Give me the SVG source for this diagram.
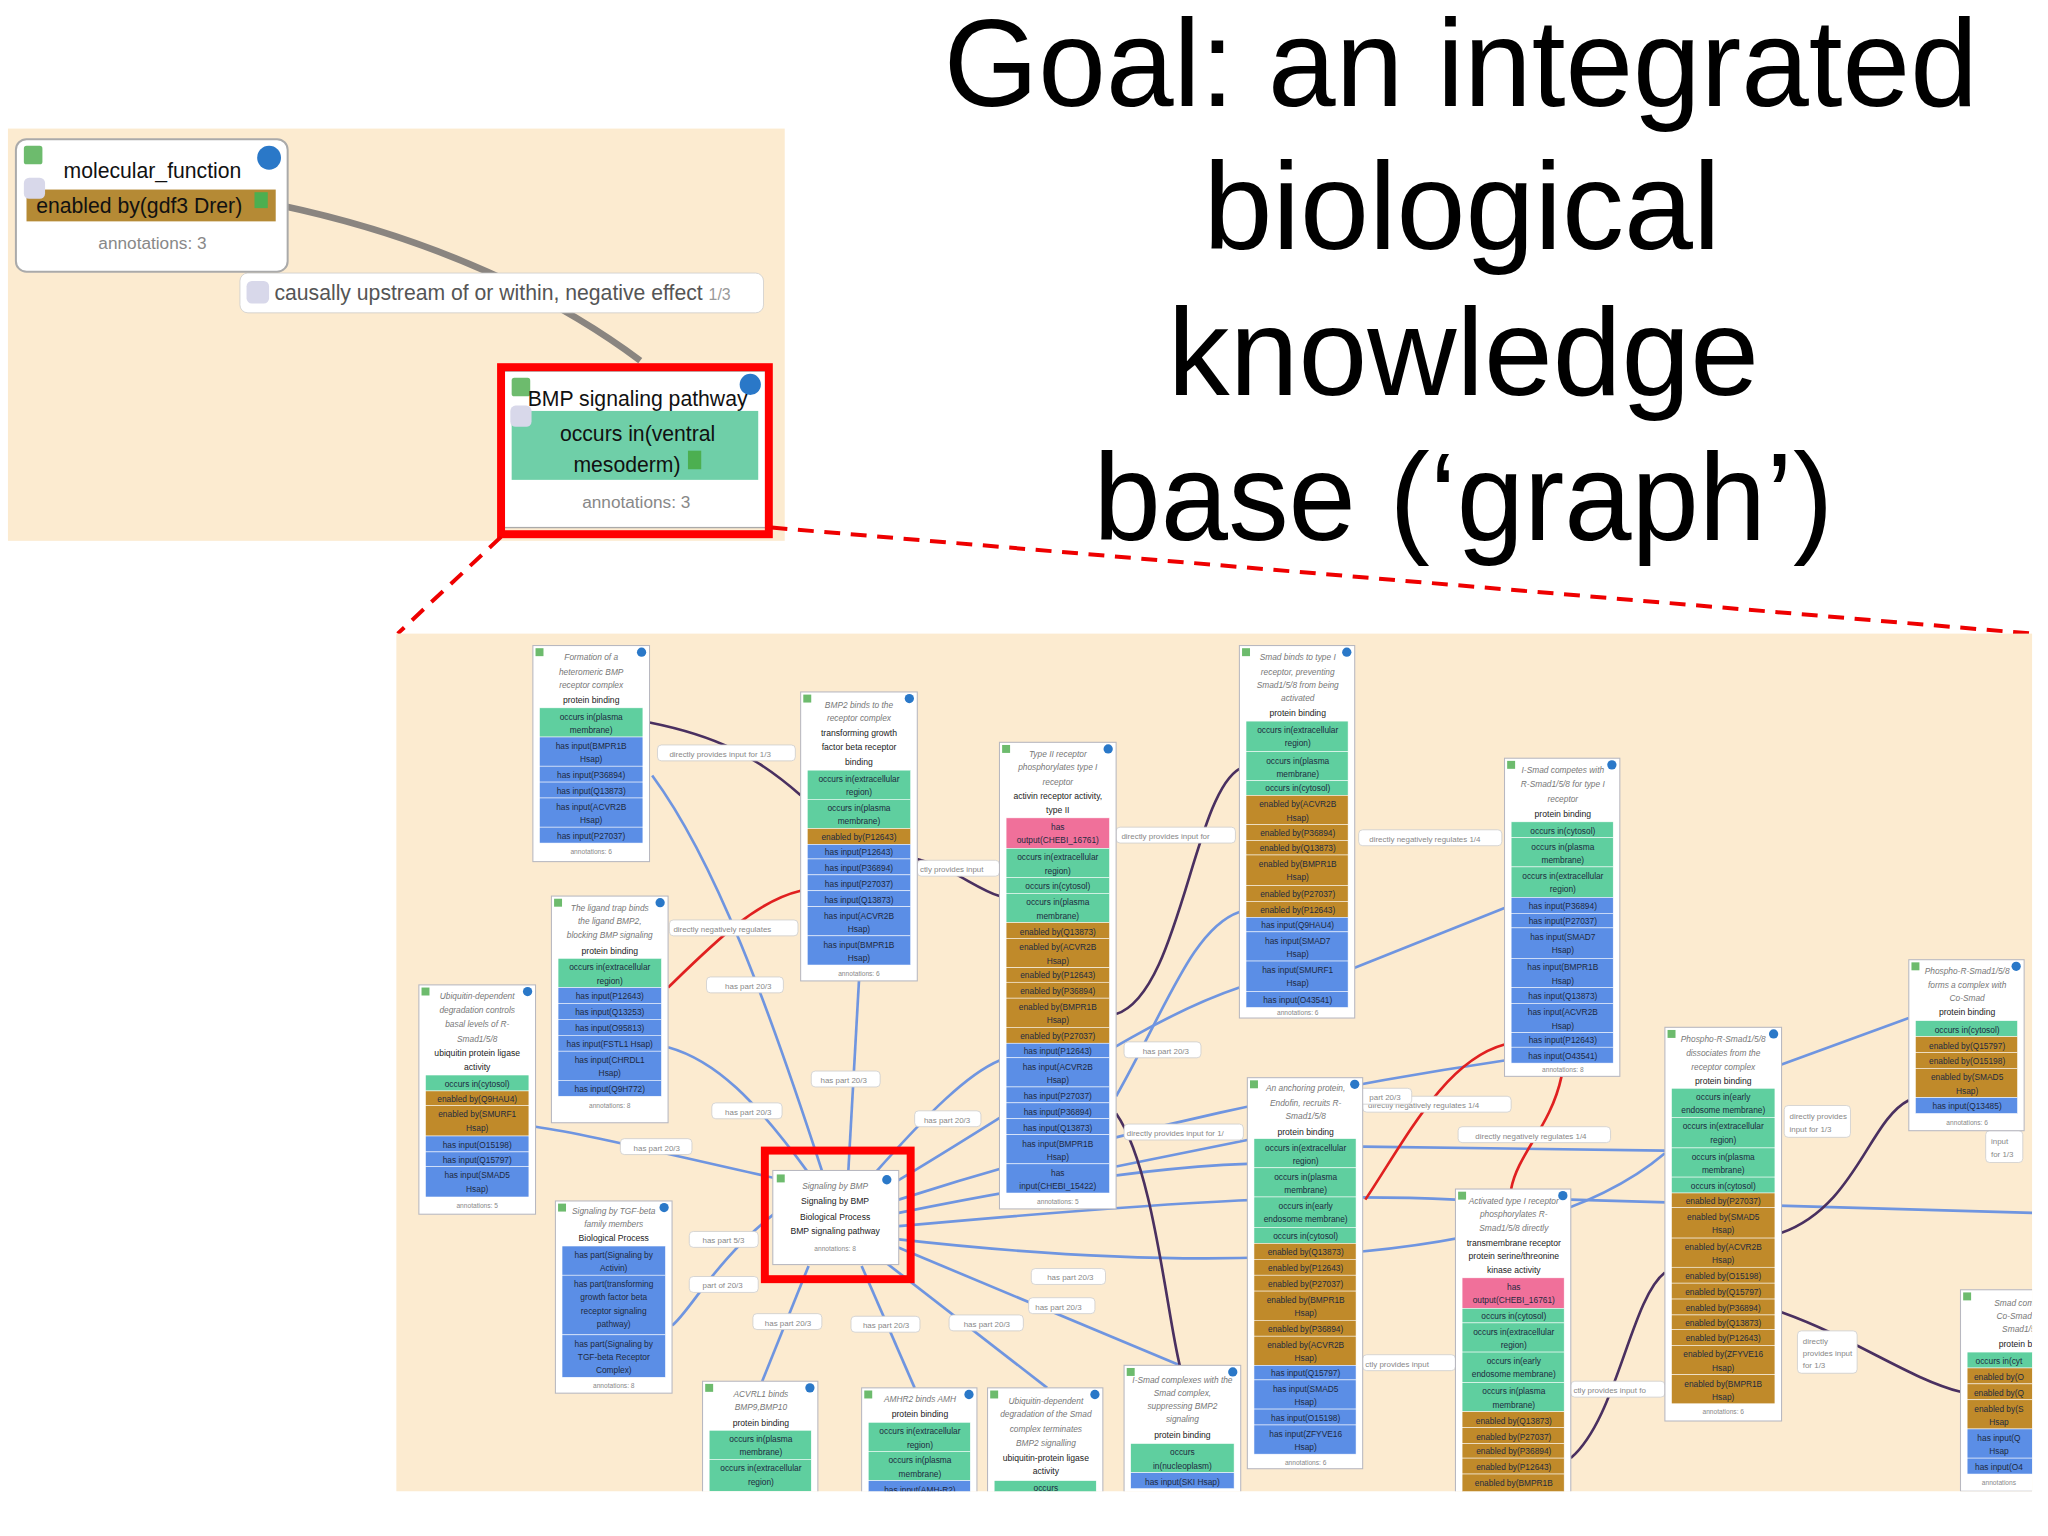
<svg xmlns="http://www.w3.org/2000/svg" width="2048" height="1536" viewBox="0 0 2048 1536">
<style>
.bg{fill:#fcebd0}
.nb{fill:#fff;stroke:#b8b8c0;stroke-width:0.8}
.g{fill:#5fcf9f;stroke:#fff;stroke-width:0.4}
.b{fill:#5b8ee6;stroke:#fff;stroke-width:0.4}
.o{fill:#c08a2a;stroke:#fff;stroke-width:0.4}
.p{fill:#f0709a;stroke:#fff;stroke-width:0.4}
text{font-family:"Liberation Sans",Arial,sans-serif;text-anchor:middle}
.ttl{font-size:94px;fill:#000}
.t{font-size:6.3px;fill:#1e2a40}
.ti{font-size:6.3px;fill:#777;font-style:italic}
.tk{font-size:6.5px;fill:#222}
.an{font-size:5px;fill:#888}
.lb{fill:#fff;stroke:#ccc;stroke-width:0.6}
.lt{font-size:6px;fill:#888;text-anchor:start}
.eb{fill:none;stroke:#6f95e0;stroke-width:2}
.ep{fill:none;stroke:#4a3060;stroke-width:2}
.er{fill:none;stroke:#e02020;stroke-width:2}
.gs{fill:#6dbb6d}
.dot{fill:#2a78c8}
.ls{fill:#d8d8ea}
</style>
<rect width="2048" height="1536" fill="#fff"/>
<g transform="scale(1.32556)">
<!-- top panel -->
<rect class="bg" x="6" y="97" width="586" height="311"/>
<text class="ttl" x="1102" y="80" textLength="780" lengthAdjust="spacingAndGlyphs">Goal: an integrated</text>
<text class="ttl" x="1103" y="188" textLength="390" lengthAdjust="spacingAndGlyphs">biological</text>
<text class="ttl" x="1104" y="298" textLength="446" lengthAdjust="spacingAndGlyphs">knowledge</text>
<text class="ttl" x="1104" y="407" textLength="558" lengthAdjust="spacingAndGlyphs">base (‘graph’)</text>
<g id="top-connectors">
<path d="M212,155 C330,180 420,225 483,272" fill="none" stroke="#8a8580" stroke-width="5"/>
<rect class="lb" x="181" y="206" width="395" height="30" rx="6"/>
<rect class="ls" x="186" y="212" width="17" height="17" rx="4"/>
<text x="207" y="226" style="font-size:16px;fill:#555;text-anchor:start">causally upstream of or within, negative effect <tspan style="font-size:12px;fill:#999">1/3</tspan></text>
</g>
<g id="molecular_function">
<rect x="12" y="105" width="205" height="100" rx="8" fill="#fff" stroke="#aaa" stroke-width="1.5"/>
<rect class="gs" x="18" y="110" width="14" height="14" rx="2"/>
<circle class="dot" cx="203" cy="119" r="9"/>
<text x="115" y="134" style="font-size:16px;fill:#111">molecular_function</text>
<rect x="20" y="143" width="188" height="24" fill="#b58a35"/>
<rect class="ls" x="18" y="134" width="16" height="16" rx="4"/>
<text x="105" y="161" style="font-size:16px;fill:#111">enabled by(gdf3 Drer)</text>
<rect x="192" y="145" width="10" height="12" fill="#4caf50"/>
<text x="115" y="188" style="font-size:13px;fill:#888">annotations: 3</text>
</g>
<g id="bmp_top">
<rect x="380" y="280" width="198" height="118" fill="#fff" stroke="#aaa"/>
<rect class="gs" x="386" y="285" width="14" height="14" rx="2"/>
<circle class="dot" cx="566" cy="290" r="8"/>
<text x="481" y="306" style="font-size:16px;fill:#111">BMP signaling pathway</text>
<rect x="386" y="310" width="186" height="52" fill="#6fcfa8"/>
<rect class="ls" x="385" y="306" width="16" height="16" rx="4"/>
<text x="481" y="333" style="font-size:16px;fill:#111">occurs in(ventral</text>
<text x="473" y="356" style="font-size:16px;fill:#111">mesoderm)</text>
<rect x="519" y="340" width="10" height="14" fill="#4caf50"/>
<text x="480" y="383" style="font-size:13px;fill:#888">annotations: 3</text>
<rect x="378" y="277" width="202" height="126" fill="none" stroke="#f00" stroke-width="6"/>
</g>
<path d="M378,405 L300,478 M582,398 L1533,478" fill="none" stroke="#e00" stroke-width="3" stroke-dasharray="12,8"/>
<!-- bottom panel -->
<rect class="bg" x="299" y="478" width="1234" height="647"/>
<clipPath id="cp"><rect x="299" y="478" width="1234" height="647"/></clipPath>
<g clip-path="url(#cp)">
<g id="connectors">
<path class="eb" d="M620,883 C580,760 540,650 492,585"/>
<path class="eb" d="M640,883 L648,740"/>
<path class="eb" d="M660,885 C700,840 730,810 754,800"/>
<path class="eb" d="M670,895 C780,830 860,770 935,745"/>
<path class="eb" d="M610,885 C570,830 540,800 504,790"/>
<path class="eb" d="M590,890 C500,870 440,855 404,850"/>
<path class="eb" d="M585,915 C540,950 520,990 507,1000"/>
<path class="eb" d="M610,955 L575,1042"/>
<path class="eb" d="M650,955 L690,1047"/>
<path class="eb" d="M665,950 L790,1047"/>
<path class="eb" d="M675,940 L890,1030"/>
<path class="eb" d="M678,915 C800,890 880,880 941,878"/>
<path class="eb" d="M678,925 C900,905 1000,900 1098,905"/>
<path class="eb" d="M678,935 C900,960 1150,960 1256,870"/>
<path class="eb" d="M678,905 C850,850 1000,820 1135,800"/>
<path class="eb" d="M1185,905 L1533,915"/>
<path class="eb" d="M1028,865 L1256,868"/>
<path class="eb" d="M1344,803 L1440,768"/>
<path class="eb" d="M842,827 C880,760 900,700 935,688"/>
<path class="eb" d="M1022,730 L1135,685"/>
<path class="eb" d="M842,880 L941,860"/>
<path class="ep" d="M490,545 C540,555 570,570 604,600"/>
<path class="ep" d="M692,648 C720,655 735,670 754,676"/>
<path class="ep" d="M842,765 C890,750 900,600 935,580"/>
<path class="ep" d="M842,840 C870,880 880,990 890,1030"/>
<path class="ep" d="M1344,930 C1400,910 1410,845 1440,830"/>
<path class="ep" d="M1185,1100 C1220,1070 1230,980 1256,960"/>
<path class="ep" d="M1344,990 C1400,1010 1440,1040 1479,1050"/>
<path class="er" d="M504,745 C540,710 570,680 604,672"/>
<path class="er" d="M1135,788 C1090,800 1060,860 1030,905"/>
<path class="er" d="M1178,812 C1170,850 1145,870 1140,897"/>
<g id="edge-labels">
<rect class="lb" x="496" y="562" width="104" height="12" rx="3"/><text class="lt" x="505" y="571">directly provides input for 1/3</text>
<rect class="lb" x="692" y="649" width="62" height="12" rx="3"/><text class="lt" x="694" y="658">ctly provides input</text>
<rect class="lb" x="505" y="694" width="97" height="12" rx="3"/><text class="lt" x="508" y="703">directly negatively regulates</text>
<rect class="lb" x="842" y="624" width="90" height="12" rx="3"/><text class="lt" x="846" y="633">directly provides input for</text>
<rect class="lb" x="1025" y="626" width="108" height="12" rx="3"/><text class="lt" x="1033" y="635">directly negatively regulates 1/4</text>
<rect class="lb" x="1028" y="827" width="112" height="12" rx="3"/><text class="lt" x="1032" y="836">directly negatively regulates 1/4</text>
<rect class="lb" x="1100" y="850" width="115" height="12" rx="3"/><text class="lt" x="1113" y="859">directly negatively regulates 1/4</text>
<rect class="lb" x="848" y="848" width="90" height="12" rx="3"/><text class="lt" x="850" y="857">directly provides input for 1/</text>
<rect class="lb" x="1028" y="1022" width="70" height="12" rx="3"/><text class="lt" x="1030" y="1031">ctly provides input</text>
<rect class="lb" x="1185" y="1042" width="71" height="12" rx="3"/><text class="lt" x="1187" y="1051">ctly provides input fo</text>
<rect class="lb" x="1346" y="834" width="50" height="24" rx="3"/><text class="lt" x="1350" y="844">directly provides</text><text class="lt" x="1350" y="854">input for 1/3</text>
<rect class="lb" x="1356" y="1004" width="45" height="32" rx="3"/><text class="lt" x="1360" y="1014">directly</text><text class="lt" x="1360" y="1023">provides input</text><text class="lt" x="1360" y="1032">for 1/3</text>
<rect class="lb" x="1498" y="853" width="28" height="24" rx="3"/><text class="lt" x="1502" y="863">input</text><text class="lt" x="1502" y="873">for 1/3</text>
<rect class="lb" x="533" y="737" width="58" height="12" rx="3"/><text class="lt" x="547" y="746">has part 20/3</text>
<rect class="lb" x="612" y="808" width="52" height="12" rx="3"/><text class="lt" x="619" y="817">has part 20/3</text>
<rect class="lb" x="537" y="832" width="53" height="12" rx="3"/><text class="lt" x="547" y="841">has part 20/3</text>
<rect class="lb" x="468" y="859" width="54" height="12" rx="3"/><text class="lt" x="478" y="868">has part 20/3</text>
<rect class="lb" x="690" y="838" width="50" height="12" rx="3"/><text class="lt" x="697" y="847">has part 20/3</text>
<rect class="lb" x="848" y="786" width="58" height="12" rx="3"/><text class="lt" x="862" y="795">has part 20/3</text>
<rect class="lb" x="1025" y="821" width="40" height="12" rx="3"/><text class="lt" x="1033" y="830">part 20/3</text>
<rect class="lb" x="520" y="929" width="52" height="12" rx="3"/><text class="lt" x="530" y="938">has part 5/3</text>
<rect class="lb" x="520" y="963" width="52" height="12" rx="3"/><text class="lt" x="530" y="972">part of 20/3</text>
<rect class="lb" x="568" y="991" width="52" height="12" rx="3"/><text class="lt" x="577" y="1000">has part 20/3</text>
<rect class="lb" x="642" y="993" width="52" height="12" rx="3"/><text class="lt" x="651" y="1002">has part 20/3</text>
<rect class="lb" x="716" y="992" width="56" height="12" rx="3"/><text class="lt" x="727" y="1001">has part 20/3</text>
<rect class="lb" x="778" y="957" width="56" height="12" rx="3"/><text class="lt" x="790" y="966">has part 20/3</text>
<rect class="lb" x="776" y="979" width="50" height="12" rx="3"/><text class="lt" x="781" y="988">has part 20/3</text>
</g>
</g>
<!-- N1 -->
<g id="n1">
<rect class="nb" x="402" y="487" width="88" height="163"/>
<rect class="gs" x="404" y="489" width="6" height="6"/><circle class="dot" cx="484" cy="492" r="3.5"/>
<text class="ti" x="446" y="498">Formation of a</text><text class="ti" x="446" y="509">heteromeric BMP</text><text class="ti" x="446" y="519">receptor complex</text>
<text class="tk" x="446" y="530">protein binding</text>
<rect class="g" x="407" y="534" width="78" height="22"/><text class="t" x="446" y="543">occurs in(plasma</text><text class="t" x="446" y="553">membrane)</text>
<rect class="b" x="407" y="556" width="78" height="22"/><text class="t" x="446" y="565">has input(BMPR1B</text><text class="t" x="446" y="575">Hsap)</text>
<rect class="b" x="407" y="578" width="78" height="12"/><text class="t" x="446" y="587">has input(P36894)</text>
<rect class="b" x="407" y="590" width="78" height="12"/><text class="t" x="446" y="599">has input(Q13873)</text>
<rect class="b" x="407" y="602" width="78" height="22"/><text class="t" x="446" y="611">has input(ACVR2B</text><text class="t" x="446" y="621">Hsap)</text>
<rect class="b" x="407" y="624" width="78" height="12"/><text class="t" x="446" y="633">has input(P27037)</text>
<text class="an" x="446" y="644">annotations: 6</text>
</g>
<!-- N2 -->
<g id="n2">
<rect class="nb" x="604" y="522" width="88" height="218"/>
<rect class="gs" x="606" y="524" width="6" height="6"/><circle class="dot" cx="686" cy="527" r="3.5"/>
<text class="ti" x="648" y="534">BMP2 binds to the</text><text class="ti" x="648" y="544">receptor complex</text>
<text class="tk" x="648" y="555">transforming growth</text><text class="tk" x="648" y="566">factor beta receptor</text><text class="tk" x="648" y="577">binding</text>
<rect class="g" x="609" y="581" width="78" height="22"/><text class="t" x="648" y="590">occurs in(extracellular</text><text class="t" x="648" y="600">region)</text>
<rect class="g" x="609" y="603" width="78" height="22"/><text class="t" x="648" y="612">occurs in(plasma</text><text class="t" x="648" y="622">membrane)</text>
<rect class="o" x="609" y="625" width="78" height="12"/><text class="t" x="648" y="634">enabled by(P12643)</text>
<rect class="b" x="609" y="637" width="78" height="11"/><text class="t" x="648" y="645">has input(P12643)</text>
<rect class="b" x="609" y="648" width="78" height="12"/><text class="t" x="648" y="657">has input(P36894)</text>
<rect class="b" x="609" y="660" width="78" height="12"/><text class="t" x="648" y="669">has input(P27037)</text>
<rect class="b" x="609" y="672" width="78" height="12"/><text class="t" x="648" y="681">has input(Q13873)</text>
<rect class="b" x="609" y="684" width="78" height="22"/><text class="t" x="648" y="693">has input(ACVR2B</text><text class="t" x="648" y="703">Hsap)</text>
<rect class="b" x="609" y="706" width="78" height="22"/><text class="t" x="648" y="715">has input(BMPR1B</text><text class="t" x="648" y="725">Hsap)</text>
<text class="an" x="648" y="736">annotations: 6</text>
</g>
<!-- N3 -->
<g id="n3">
<rect class="nb" x="754" y="560" width="88" height="352"/>
<rect class="gs" x="756" y="562" width="6" height="6"/><circle class="dot" cx="836" cy="565" r="3.5"/>
<text class="ti" x="798" y="571">Type II receptor</text><text class="ti" x="798" y="581">phosphorylates type I</text><text class="ti" x="798" y="592">receptor</text>
<text class="tk" x="798" y="603">activin receptor activity,</text><text class="tk" x="798" y="613">type II</text>
<rect class="p" x="759" y="617" width="78" height="23"/><text class="t" x="798" y="626">has</text><text class="t" x="798" y="636">output(CHEBI_16761)</text>
<rect class="g" x="759" y="640" width="78" height="22"/><text class="t" x="798" y="649">occurs in(extracellular</text><text class="t" x="798" y="659">region)</text>
<rect class="g" x="759" y="662" width="78" height="12"/><text class="t" x="798" y="671">occurs in(cytosol)</text>
<rect class="g" x="759" y="674" width="78" height="22"/><text class="t" x="798" y="683">occurs in(plasma</text><text class="t" x="798" y="693">membrane)</text>
<rect class="o" x="759" y="696" width="78" height="12"/><text class="t" x="798" y="705">enabled by(Q13873)</text>
<rect class="o" x="759" y="708" width="78" height="22"/><text class="t" x="798" y="717">enabled by(ACVR2B</text><text class="t" x="798" y="727">Hsap)</text>
<rect class="o" x="759" y="730" width="78" height="11"/><text class="t" x="798" y="738">enabled by(P12643)</text>
<rect class="o" x="759" y="741" width="78" height="12"/><text class="t" x="798" y="750">enabled by(P36894)</text>
<rect class="o" x="759" y="753" width="78" height="22"/><text class="t" x="798" y="762">enabled by(BMPR1B</text><text class="t" x="798" y="772">Hsap)</text>
<rect class="o" x="759" y="775" width="78" height="12"/><text class="t" x="798" y="784">enabled by(P27037)</text>
<rect class="b" x="759" y="787" width="78" height="11"/><text class="t" x="798" y="795">has input(P12643)</text>
<rect class="b" x="759" y="798" width="78" height="22"/><text class="t" x="798" y="807">has input(ACVR2B</text><text class="t" x="798" y="817">Hsap)</text>
<rect class="b" x="759" y="820" width="78" height="12"/><text class="t" x="798" y="829">has input(P27037)</text>
<rect class="b" x="759" y="832" width="78" height="12"/><text class="t" x="798" y="841">has input(P36894)</text>
<rect class="b" x="759" y="844" width="78" height="12"/><text class="t" x="798" y="853">has input(Q13873)</text>
<rect class="b" x="759" y="856" width="78" height="22"/><text class="t" x="798" y="865">has input(BMPR1B</text><text class="t" x="798" y="875">Hsap)</text>
<rect class="b" x="759" y="878" width="78" height="22"/><text class="t" x="798" y="887">has</text><text class="t" x="798" y="897">input(CHEBI_15422)</text>
<text class="an" x="798" y="908">annotations: 5</text>
</g>
<!-- N4 -->
<g id="n4">
<rect class="nb" x="935" y="487" width="87" height="281"/>
<rect class="gs" x="937" y="489" width="6" height="6"/><circle class="dot" cx="1016" cy="492" r="3.5"/>
<text class="ti" x="979" y="498">Smad binds to type I</text><text class="ti" x="979" y="509">receptor, preventing</text><text class="ti" x="979" y="519">Smad1/5/8 from being</text><text class="ti" x="979" y="529">activated</text>
<text class="tk" x="979" y="540">protein binding</text>
<rect class="g" x="940" y="544" width="77" height="23"/><text class="t" x="979" y="553">occurs in(extracellular</text><text class="t" x="979" y="563">region)</text>
<rect class="g" x="940" y="567" width="77" height="22"/><text class="t" x="979" y="576">occurs in(plasma</text><text class="t" x="979" y="586">membrane)</text>
<rect class="g" x="940" y="589" width="77" height="11"/><text class="t" x="979" y="597">occurs in(cytosol)</text>
<rect class="o" x="940" y="600" width="77" height="22"/><text class="t" x="979" y="609">enabled by(ACVR2B</text><text class="t" x="979" y="619">Hsap)</text>
<rect class="o" x="940" y="622" width="77" height="12"/><text class="t" x="979" y="631">enabled by(P36894)</text>
<rect class="o" x="940" y="634" width="77" height="11"/><text class="t" x="979" y="642">enabled by(Q13873)</text>
<rect class="o" x="940" y="645" width="77" height="23"/><text class="t" x="979" y="654">enabled by(BMPR1B</text><text class="t" x="979" y="664">Hsap)</text>
<rect class="o" x="940" y="668" width="77" height="12"/><text class="t" x="979" y="677">enabled by(P27037)</text>
<rect class="o" x="940" y="680" width="77" height="12"/><text class="t" x="979" y="689">enabled by(P12643)</text>
<rect class="b" x="940" y="692" width="77" height="11"/><text class="t" x="979" y="700">has input(Q9HAU4)</text>
<rect class="b" x="940" y="703" width="77" height="22"/><text class="t" x="979" y="712">has input(SMAD7</text><text class="t" x="979" y="722">Hsap)</text>
<rect class="b" x="940" y="725" width="77" height="23"/><text class="t" x="979" y="734">has input(SMURF1</text><text class="t" x="979" y="744">Hsap)</text>
<rect class="b" x="940" y="748" width="77" height="12"/><text class="t" x="979" y="757">has input(O43541)</text>
<text class="an" x="979" y="766">annotations: 6</text>
</g>
<!-- N5 -->
<g id="n5">
<rect class="nb" x="1135" y="572" width="87" height="240"/>
<rect class="gs" x="1137" y="574" width="6" height="6"/><circle class="dot" cx="1216" cy="577" r="3.5"/>
<text class="ti" x="1179" y="583">I-Smad competes with</text><text class="ti" x="1179" y="594">R-Smad1/5/8 for type I</text><text class="ti" x="1179" y="605">receptor</text>
<text class="tk" x="1179" y="616">protein binding</text>
<rect class="g" x="1140" y="620" width="77" height="12"/><text class="t" x="1179" y="629">occurs in(cytosol)</text>
<rect class="g" x="1140" y="632" width="77" height="22"/><text class="t" x="1179" y="641">occurs in(plasma</text><text class="t" x="1179" y="651">membrane)</text>
<rect class="g" x="1140" y="654" width="77" height="23"/><text class="t" x="1179" y="663">occurs in(extracellular</text><text class="t" x="1179" y="673">region)</text>
<rect class="b" x="1140" y="677" width="77" height="12"/><text class="t" x="1179" y="686">has input(P36894)</text>
<rect class="b" x="1140" y="689" width="77" height="11"/><text class="t" x="1179" y="697">has input(P27037)</text>
<rect class="b" x="1140" y="700" width="77" height="23"/><text class="t" x="1179" y="709">has input(SMAD7</text><text class="t" x="1179" y="719">Hsap)</text>
<rect class="b" x="1140" y="723" width="77" height="22"/><text class="t" x="1179" y="732">has input(BMPR1B</text><text class="t" x="1179" y="742">Hsap)</text>
<rect class="b" x="1140" y="745" width="77" height="12"/><text class="t" x="1179" y="754">has input(Q13873)</text>
<rect class="b" x="1140" y="757" width="77" height="22"/><text class="t" x="1179" y="766">has input(ACVR2B</text><text class="t" x="1179" y="776">Hsap)</text>
<rect class="b" x="1140" y="779" width="77" height="11"/><text class="t" x="1179" y="787">has input(P12643)</text>
<rect class="b" x="1140" y="790" width="77" height="12"/><text class="t" x="1179" y="799">has input(O43541)</text>
<text class="an" x="1179" y="809">annotations: 8</text>
</g>
<!-- N6 -->
<g id="n6">
<rect class="nb" x="1440" y="724" width="87" height="129"/>
<rect class="gs" x="1442" y="726" width="6" height="6"/><circle class="dot" cx="1521" cy="729" r="3.5"/>
<text class="ti" x="1484" y="735">Phospho-R-Smad1/5/8</text><text class="ti" x="1484" y="745">forms a complex with</text><text class="ti" x="1484" y="755">Co-Smad</text>
<text class="tk" x="1484" y="766">protein binding</text>
<rect class="g" x="1445" y="770" width="77" height="12"/><text class="t" x="1484" y="779">occurs in(cytosol)</text>
<rect class="o" x="1445" y="782" width="77" height="12"/><text class="t" x="1484" y="791">enabled by(Q15797)</text>
<rect class="o" x="1445" y="794" width="77" height="12"/><text class="t" x="1484" y="803">enabled by(O15198)</text>
<rect class="o" x="1445" y="806" width="77" height="22"/><text class="t" x="1484" y="815">enabled by(SMAD5</text><text class="t" x="1484" y="825">Hsap)</text>
<rect class="b" x="1445" y="828" width="77" height="12"/><text class="t" x="1484" y="837">has input(Q13485)</text>
<text class="an" x="1484" y="849">annotations: 6</text>
</g>
<!-- N7 -->
<g id="n7">
<rect class="nb" x="1256" y="775" width="88" height="297"/>
<rect class="gs" x="1258" y="777" width="6" height="6"/><circle class="dot" cx="1338" cy="780" r="3.5"/>
<text class="ti" x="1300" y="786">Phospho-R-Smad1/5/8</text><text class="ti" x="1300" y="797">dissociates from the</text><text class="ti" x="1300" y="807">receptor complex</text>
<text class="tk" x="1300" y="818">protein binding</text>
<rect class="g" x="1261" y="821" width="78" height="22"/><text class="t" x="1300" y="830">occurs in(early</text><text class="t" x="1300" y="840">endosome membrane)</text>
<rect class="g" x="1261" y="843" width="78" height="23"/><text class="t" x="1300" y="852">occurs in(extracellular</text><text class="t" x="1300" y="862">region)</text>
<rect class="g" x="1261" y="866" width="78" height="22"/><text class="t" x="1300" y="875">occurs in(plasma</text><text class="t" x="1300" y="885">membrane)</text>
<rect class="g" x="1261" y="888" width="78" height="12"/><text class="t" x="1300" y="897">occurs in(cytosol)</text>
<rect class="o" x="1261" y="900" width="78" height="11"/><text class="t" x="1300" y="908">enabled by(P27037)</text>
<rect class="o" x="1261" y="911" width="78" height="23"/><text class="t" x="1300" y="920">enabled by(SMAD5</text><text class="t" x="1300" y="930">Hsap)</text>
<rect class="o" x="1261" y="934" width="78" height="22"/><text class="t" x="1300" y="943">enabled by(ACVR2B</text><text class="t" x="1300" y="953">Hsap)</text>
<rect class="o" x="1261" y="956" width="78" height="12"/><text class="t" x="1300" y="965">enabled by(O15198)</text>
<rect class="o" x="1261" y="968" width="78" height="12"/><text class="t" x="1300" y="977">enabled by(Q15797)</text>
<rect class="o" x="1261" y="980" width="78" height="12"/><text class="t" x="1300" y="989">enabled by(P36894)</text>
<rect class="o" x="1261" y="992" width="78" height="11"/><text class="t" x="1300" y="1000">enabled by(Q13873)</text>
<rect class="o" x="1261" y="1003" width="78" height="12"/><text class="t" x="1300" y="1012">enabled by(P12643)</text>
<rect class="o" x="1261" y="1015" width="78" height="22"/><text class="t" x="1300" y="1024">enabled by(ZFYVE16</text><text class="t" x="1300" y="1034">Hsap)</text>
<rect class="o" x="1261" y="1037" width="78" height="22"/><text class="t" x="1300" y="1046">enabled by(BMPR1B</text><text class="t" x="1300" y="1056">Hsap)</text>
<text class="an" x="1300" y="1067">annotations: 6</text>
</g>
<!-- N8 -->
<g id="n8">
<rect class="nb" x="941" y="813" width="87" height="295"/>
<rect class="gs" x="943" y="815" width="6" height="6"/><circle class="dot" cx="1022" cy="818" r="3.5"/>
<text class="ti" x="985" y="823">An anchoring protein,</text><text class="ti" x="985" y="834">Endofin, recruits R-</text><text class="ti" x="985" y="844">Smad1/5/8</text>
<text class="tk" x="985" y="856">protein binding</text>
<rect class="g" x="946" y="859" width="77" height="22"/><text class="t" x="985" y="868">occurs in(extracellular</text><text class="t" x="985" y="878">region)</text>
<rect class="g" x="946" y="881" width="77" height="22"/><text class="t" x="985" y="890">occurs in(plasma</text><text class="t" x="985" y="900">membrane)</text>
<rect class="g" x="946" y="903" width="77" height="23"/><text class="t" x="985" y="912">occurs in(early</text><text class="t" x="985" y="922">endosome membrane)</text>
<rect class="g" x="946" y="926" width="77" height="12"/><text class="t" x="985" y="935">occurs in(cytosol)</text>
<rect class="o" x="946" y="938" width="77" height="12"/><text class="t" x="985" y="947">enabled by(Q13873)</text>
<rect class="o" x="946" y="950" width="77" height="12"/><text class="t" x="985" y="959">enabled by(P12643)</text>
<rect class="o" x="946" y="962" width="77" height="12"/><text class="t" x="985" y="971">enabled by(P27037)</text>
<rect class="o" x="946" y="974" width="77" height="22"/><text class="t" x="985" y="983">enabled by(BMPR1B</text><text class="t" x="985" y="993">Hsap)</text>
<rect class="o" x="946" y="996" width="77" height="12"/><text class="t" x="985" y="1005">enabled by(P36894)</text>
<rect class="o" x="946" y="1008" width="77" height="22"/><text class="t" x="985" y="1017">enabled by(ACVR2B</text><text class="t" x="985" y="1027">Hsap)</text>
<rect class="b" x="946" y="1030" width="77" height="11"/><text class="t" x="985" y="1038">has input(Q15797)</text>
<rect class="b" x="946" y="1041" width="77" height="22"/><text class="t" x="985" y="1050">has input(SMAD5</text><text class="t" x="985" y="1060">Hsap)</text>
<rect class="b" x="946" y="1063" width="77" height="12"/><text class="t" x="985" y="1072">has input(O15198)</text>
<rect class="b" x="946" y="1075" width="77" height="22"/><text class="t" x="985" y="1084">has input(ZFYVE16</text><text class="t" x="985" y="1094">Hsap)</text>
<text class="an" x="985" y="1105">annotations: 6</text>
</g>
<!-- N9 -->
<g id="n9">
<rect class="nb" x="1098" y="897" width="87" height="240"/>
<rect class="gs" x="1100" y="899" width="6" height="6"/><circle class="dot" cx="1179" cy="902" r="3.5"/>
<text class="ti" x="1142" y="908">Activated type I receptor</text><text class="ti" x="1142" y="918">phosphorylates R-</text><text class="ti" x="1142" y="929">Smad1/5/8 directly</text>
<text class="tk" x="1142" y="940">transmembrane receptor</text><text class="tk" x="1142" y="950">protein serine/threonine</text><text class="tk" x="1142" y="960">kinase activity</text>
<rect class="p" x="1103" y="964" width="77" height="23"/><text class="t" x="1142" y="973">has</text><text class="t" x="1142" y="983">output(CHEBI_16761)</text>
<rect class="g" x="1103" y="987" width="77" height="11"/><text class="t" x="1142" y="995">occurs in(cytosol)</text>
<rect class="g" x="1103" y="998" width="77" height="22"/><text class="t" x="1142" y="1007">occurs in(extracellular</text><text class="t" x="1142" y="1017">region)</text>
<rect class="g" x="1103" y="1020" width="77" height="23"/><text class="t" x="1142" y="1029">occurs in(early</text><text class="t" x="1142" y="1039">endosome membrane)</text>
<rect class="g" x="1103" y="1043" width="77" height="22"/><text class="t" x="1142" y="1052">occurs in(plasma</text><text class="t" x="1142" y="1062">membrane)</text>
<rect class="o" x="1103" y="1065" width="77" height="12"/><text class="t" x="1142" y="1074">enabled by(Q13873)</text>
<rect class="o" x="1103" y="1077" width="77" height="12"/><text class="t" x="1142" y="1086">enabled by(P27037)</text>
<rect class="o" x="1103" y="1089" width="77" height="11"/><text class="t" x="1142" y="1097">enabled by(P36894)</text>
<rect class="o" x="1103" y="1100" width="77" height="12"/><text class="t" x="1142" y="1109">enabled by(P12643)</text>
<rect class="o" x="1103" y="1112" width="77" height="22"/><text class="t" x="1142" y="1121">enabled by(BMPR1B</text>
</g>
<!-- N10 -->
<g id="n10">
<rect class="nb" x="316" y="743" width="88" height="173"/>
<rect class="gs" x="318" y="745" width="6" height="6"/><circle class="dot" cx="398" cy="748" r="3.5"/>
<text class="ti" x="360" y="754">Ubiquitin-dependent</text><text class="ti" x="360" y="764">degradation controls</text><text class="ti" x="360" y="775">basal levels of R-</text><text class="ti" x="360" y="786">Smad1/5/8</text>
<text class="tk" x="360" y="797">ubiquitin protein ligase</text><text class="tk" x="360" y="807">activity</text>
<rect class="g" x="321" y="811" width="78" height="12"/><text class="t" x="360" y="820">occurs in(cytosol)</text>
<rect class="o" x="321" y="823" width="78" height="11"/><text class="t" x="360" y="831">enabled by(Q9HAU4)</text>
<rect class="o" x="321" y="834" width="78" height="23"/><text class="t" x="360" y="843">enabled by(SMURF1</text><text class="t" x="360" y="853">Hsap)</text>
<rect class="b" x="321" y="857" width="78" height="12"/><text class="t" x="360" y="866">has input(O15198)</text>
<rect class="b" x="321" y="869" width="78" height="11"/><text class="t" x="360" y="877">has input(Q15797)</text>
<rect class="b" x="321" y="880" width="78" height="23"/><text class="t" x="360" y="889">has input(SMAD5</text><text class="t" x="360" y="899">Hsap)</text>
<text class="an" x="360" y="911">annotations: 5</text>
</g>
<!-- N11 -->
<g id="n11">
<rect class="nb" x="416" y="676" width="88" height="171"/>
<rect class="gs" x="418" y="678" width="6" height="6"/><circle class="dot" cx="498" cy="681" r="3.5"/>
<text class="ti" x="460" y="687">The ligand trap binds</text><text class="ti" x="460" y="697">the ligand BMP2,</text><text class="ti" x="460" y="708">blocking BMP signaling</text>
<text class="tk" x="460" y="720">protein binding</text>
<rect class="g" x="421" y="723" width="78" height="22"/><text class="t" x="460" y="732">occurs in(extracellular</text><text class="t" x="460" y="742">region)</text>
<rect class="b" x="421" y="745" width="78" height="12"/><text class="t" x="460" y="754">has input(P12643)</text>
<rect class="b" x="421" y="757" width="78" height="12"/><text class="t" x="460" y="766">has input(Q13253)</text>
<rect class="b" x="421" y="769" width="78" height="12"/><text class="t" x="460" y="778">has input(O95813)</text>
<rect class="b" x="421" y="781" width="78" height="12"/><text class="t" x="460" y="790">has input(FSTL1 Hsap)</text>
<rect class="b" x="421" y="793" width="78" height="22"/><text class="t" x="460" y="802">has input(CHRDL1</text><text class="t" x="460" y="812">Hsap)</text>
<rect class="b" x="421" y="815" width="78" height="12"/><text class="t" x="460" y="824">has input(Q9H772)</text>
<text class="an" x="460" y="836">annotations: 8</text>
</g>
<!-- N12 -->
<g id="n12">
<rect class="nb" x="419" y="906" width="88" height="145"/>
<rect class="gs" x="421" y="908" width="6" height="6"/><circle class="dot" cx="501" cy="911" r="3.5"/>
<text class="ti" x="463" y="916">Signaling by TGF-beta</text><text class="ti" x="463" y="926">family members</text>
<text class="tk" x="463" y="936">Biological Process</text>
<rect class="b" x="424" y="940" width="78" height="22"/><text class="t" x="463" y="949">has part(Signaling by</text><text class="t" x="463" y="959">Activin)</text>
<rect class="b" x="424" y="962" width="78" height="45"/><text class="t" x="463" y="971">has part(transforming</text><text class="t" x="463" y="981">growth factor beta</text><text class="t" x="463" y="991">receptor signaling</text><text class="t" x="463" y="1001">pathway)</text>
<rect class="b" x="424" y="1007" width="78" height="32"/><text class="t" x="463" y="1016">has part(Signaling by</text><text class="t" x="463" y="1026">TGF-beta Receptor</text><text class="t" x="463" y="1036">Complex)</text>
<text class="an" x="463" y="1047">annotations: 8</text>
</g>
<!-- N13 center -->
<g id="n13">
<rect class="nb" x="583" y="883" width="95" height="71"/>
<rect class="gs" x="586" y="886" width="6" height="6"/><circle class="dot" cx="669" cy="890" r="3.5"/>
<text class="ti" x="630" y="897">Signaling by BMP</text>
<text class="tk" x="630" y="908">Signaling by BMP</text>
<text class="tk" x="630" y="920">Biological Process</text>
<text class="tk" x="630" y="931">BMP signaling pathway</text>
<text class="an" x="630" y="944">annotations: 8</text>
<rect x="577" y="868" width="110" height="97" fill="none" stroke="#f00" stroke-width="6"/>
</g>
<!-- N14 -->
<g id="n14">
<rect class="nb" x="530" y="1042" width="87" height="90"/>
<rect class="gs" x="532" y="1044" width="6" height="6"/><circle class="dot" cx="611" cy="1047" r="3.5"/>
<text class="ti" x="574" y="1054">ACVRL1 binds</text><text class="ti" x="574" y="1064">BMP9,BMP10</text>
<text class="tk" x="574" y="1076">protein binding</text>
<rect class="g" x="535" y="1079" width="77" height="22"/><text class="t" x="574" y="1088">occurs in(plasma</text><text class="t" x="574" y="1098">membrane)</text>
<rect class="g" x="535" y="1101" width="77" height="24"/><text class="t" x="574" y="1110">occurs in(extracellular</text><text class="t" x="574" y="1120">region)</text>
</g>
<!-- N15 -->
<g id="n15">
<rect class="nb" x="650" y="1047" width="87" height="85"/>
<rect class="gs" x="652" y="1049" width="6" height="6"/><circle class="dot" cx="731" cy="1052" r="3.5"/>
<text class="ti" x="694" y="1058">AMHR2 binds AMH</text>
<text class="tk" x="694" y="1069">protein binding</text>
<rect class="g" x="655" y="1073" width="77" height="22"/><text class="t" x="694" y="1082">occurs in(extracellular</text><text class="t" x="694" y="1092">region)</text>
<rect class="g" x="655" y="1095" width="77" height="22"/><text class="t" x="694" y="1104">occurs in(plasma</text><text class="t" x="694" y="1114">membrane)</text>
<rect class="b" x="655" y="1117" width="77" height="12"/><text class="t" x="694" y="1126">has input(AMH-R2)</text>
</g>
<!-- N16 -->
<g id="n16">
<rect class="nb" x="745" y="1047" width="87" height="85"/>
<rect class="gs" x="747" y="1049" width="6" height="6"/><circle class="dot" cx="826" cy="1052" r="3.5"/>
<text class="ti" x="789" y="1059">Ubiquitin-dependent</text><text class="ti" x="789" y="1069">degradation of the Smad</text><text class="ti" x="789" y="1080">complex terminates</text><text class="ti" x="789" y="1091">BMP2 signalling</text>
<text class="tk" x="789" y="1102">ubiquitin-protein ligase</text><text class="tk" x="789" y="1112">activity</text>
<rect class="g" x="750" y="1117" width="77" height="12"/><text class="t" x="789" y="1125">occurs</text>
</g>
<!-- N17 -->
<g id="n17">
<rect class="nb" x="848" y="1030" width="88" height="100"/>
<rect class="gs" x="850" y="1032" width="6" height="6"/><circle class="dot" cx="930" cy="1035" r="3.5"/>
<text class="ti" x="892" y="1043">I-Smad complexes with the</text><text class="ti" x="892" y="1053">Smad complex,</text><text class="ti" x="892" y="1063">suppressing BMP2</text><text class="ti" x="892" y="1073">signaling</text>
<text class="tk" x="892" y="1085">protein binding</text>
<rect class="g" x="853" y="1089" width="78" height="22"/><text class="t" x="892" y="1098">occurs</text><text class="t" x="892" y="1108">in(nucleoplasm)</text>
<rect class="b" x="853" y="1111" width="78" height="12"/><text class="t" x="892" y="1120">has input(SKI Hsap)</text>
</g>
<!-- N18 -->
<g id="n18">
<rect class="nb" x="1479" y="973" width="87" height="152"/>
<rect class="gs" x="1481" y="975" width="6" height="6"/>
<text class="ti" x="1523" y="985">Smad compe</text><text class="ti" x="1523" y="995">Co-Smad fo</text><text class="ti" x="1523" y="1005">Smad1/5</text>
<text class="tk" x="1523" y="1016">protein bin</text>
<rect class="g" x="1484" y="1020" width="77" height="12"/><text class="t" x="1508" y="1029">occurs in(cyt</text>
<rect class="o" x="1484" y="1032" width="77" height="12"/><text class="t" x="1508" y="1041">enabled by(O</text>
<rect class="o" x="1484" y="1044" width="77" height="12"/><text class="t" x="1508" y="1053">enabled by(Q</text>
<rect class="o" x="1484" y="1056" width="77" height="22"/><text class="t" x="1508" y="1065">enabled by(S</text><text class="t" x="1508" y="1075">Hsap</text>
<rect class="b" x="1484" y="1078" width="77" height="22"/><text class="t" x="1508" y="1087">has input(Q</text><text class="t" x="1508" y="1097">Hsap</text>
<rect class="b" x="1484" y="1100" width="77" height="12"/><text class="t" x="1508" y="1109">has input(O4</text>
<text class="an" x="1508" y="1120">annotations</text>
</g>
</g>
</g>
</svg>
